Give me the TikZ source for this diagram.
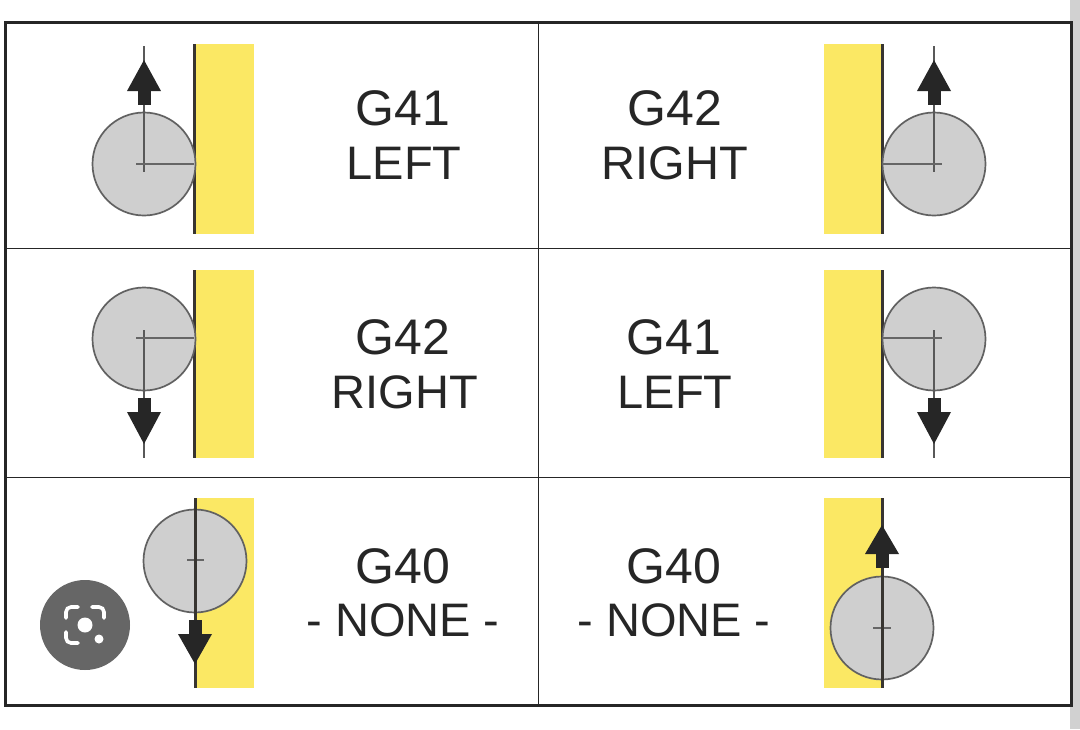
\documentclass[tikz,border=0pt]{standalone}
\usepackage{fontspec}
\setmainfont{Liberation Sans}
\definecolor{ink}{HTML}{262626}
\definecolor{wallyellow}{HTML}{FBE864}
\definecolor{toolgray}{HTML}{CFCFCF}
\tikzset{
  x=1pt,y=-1pt,
  frameline/.style={draw=ink,line width=3pt},
  gridline/.style={draw=ink,line width=1.4pt},
  wall/.style={fill=wallyellow,draw=none},
  edgeline/.style={draw=black!90!yellow,line width=3pt},
  tool/.style={circle,draw=black!62,fill=toolgray,line width=1.7pt,minimum size=103pt,inner sep=0pt,outer sep=0pt},
  axis/.style={draw=black!60,line width=1.8pt},
  path/.style={draw=black!65,line width=1.8pt},
  headfill/.style={fill=ink,draw=none},
  code/.style={font=\fontsize{50}{50}\selectfont,text=ink,inner sep=0pt,anchor=center},
  side/.style={font=\fontsize{47}{47}\selectfont,text=ink,inner sep=0pt,anchor=center},
}
% arrow glyph: #1 x, #2 head tip y, #3 head base y, #4 shaft end y
\newcommand{\flowarrow}[4]{%
  \fill[headfill] (#1-17,#3) -- (#1,#2) -- (#1+17,#3) -- cycle;
  \fill[headfill] (#1-6.5,#3) rectangle (#1+6.5,#4);
}
\begin{document}
\begin{tikzpicture}
\useasboundingbox (0,0) rectangle (1080,729);
\fill[white] (0,0) rectangle (1080,729);
\fill[black!18] (1070,0) rectangle (1080,729);
% walls
\fill[wall] (195,44) rectangle (254,234);
\fill[wall] (824,44) rectangle (882,234);
\fill[wall] (195,270) rectangle (254,458);
\fill[wall] (824,270) rectangle (882,458);
\fill[wall] (195,498) rectangle (254,688);
\fill[wall] (824,498) rectangle (882,688);
% grid
\draw[gridline] (538.5,22) -- (538.5,705);
\draw[gridline] (5,248.5) -- (1071,248.5);
\draw[gridline] (5,477.5) -- (1071,477.5);
\draw[frameline] (5,22) rectangle (1071,705);
% row 1 left
\draw[edgeline] (194.5,44) -- (194.5,234);
\node[tool] (t1) at (144,164) {};
\coordinate (t1top) at (144,46);
\coordinate (t1low) at (144,172);
\coordinate (t1l) at (136,164);
\coordinate (t1r) at (194,164);
\draw[path] (t1top) -- (t1low);
\draw[axis] (t1l) -- (t1r);
\flowarrow{144}{60}{91}{105}
% row 1 right
\draw[edgeline] (882,44) -- (882,234);
\node[tool] (t2) at (934,164) {};
\coordinate (t2top) at (934,46);
\coordinate (t2low) at (934,172);
\coordinate (t2l) at (882,164);
\coordinate (t2r) at (942,164);
\draw[path] (t2top) -- (t2low);
\draw[axis] (t2l) -- (t2r);
\flowarrow{934}{60}{91}{105}
% row 2 left
\draw[edgeline] (194.5,270) -- (194.5,458);
\node[tool] (t3) at (144,339) {};
\coordinate (t3top) at (144,330);
\coordinate (t3low) at (144,458);
\coordinate (t3l) at (136,338);
\coordinate (t3r) at (194,338);
\draw[path] (t3top) -- (t3low);
\draw[axis] (t3l) -- (t3r);
\flowarrow{144}{444}{412}{398}
% row 2 right
\draw[edgeline] (882,270) -- (882,458);
\node[tool] (t4) at (934,339) {};
\coordinate (t4top) at (934,330);
\coordinate (t4low) at (934,458);
\coordinate (t4l) at (882,338);
\coordinate (t4r) at (942,338);
\draw[path] (t4top) -- (t4low);
\draw[axis] (t4l) -- (t4r);
\flowarrow{934}{444}{412}{398}
% row 3 left
\node[tool] (t5) at (195,561) {};
\coordinate (t5top) at (195,498);
\coordinate (t5low) at (195,688);
\coordinate (t5l) at (187,560);
\coordinate (t5r) at (204,560);
\draw[axis] (t5l) -- (t5r);
\draw[edgeline] (t5top) -- (t5low);
\flowarrow{195}{664}{634}{620}
% row 3 right
\node[tool] (t6) at (882,628) {};
\coordinate (t6top) at (882,498);
\coordinate (t6low) at (882,688);
\coordinate (t6l) at (873,628);
\coordinate (t6r) at (891,628);
\draw[axis] (t6l) -- (t6r);
\draw[edgeline] (t6top) -- (t6low);
\flowarrow{882}{525}{554}{568}
% labels
\node[code] (a1) at (403,108) {G41};
\node[side] (b1) at (404,163) {LEFT};
\node[code] (a2) at (675,108) {G42};
\node[side] (b2) at (675,163) {RIGHT};
\node[code] (a3) at (403,337) {G42};
\node[side] (b3) at (405,392) {RIGHT};
\node[code] (a4) at (674,337) {G41};
\node[side] (b4) at (675,392) {LEFT};
\node[code] (a5) at (403,566) {G40};
\node[side] (b5) at (403,620) {- NONE -};
\node[code] (a6) at (674,566) {G40};
\node[side] (b6) at (674,620) {- NONE -};
% lens badge
\node[circle,fill=black!60,minimum size=90pt,inner sep=0pt] (lens) at (85,625) {};
\node[circle,fill=white,minimum size=15pt,inner sep=0pt] (lensdot) at (85,625) {};
\node[circle,fill=white,minimum size=9pt,inner sep=0pt] (lensspot) at (99,639) {};
\draw[white,line width=3.6pt,line cap=round,rounded corners=5pt]
  (66,618) -- (66,607) -- (78,607);
\draw[white,line width=3.6pt,line cap=round,rounded corners=5pt]
  (92,607) -- (104,607) -- (104,618);
\draw[white,line width=3.6pt,line cap=round,rounded corners=5pt]
  (66,632) -- (66,643) -- (78,643);
\end{tikzpicture}
\end{document}
